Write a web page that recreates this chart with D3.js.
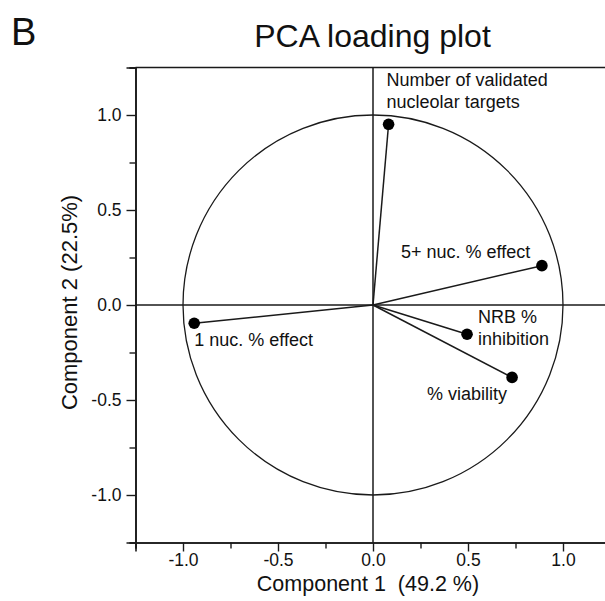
<!DOCTYPE html>
<html>
<head>
<meta charset="utf-8">
<script src="https://cdn.jsdelivr.net/npm/d3@7"></script>
<style>
  body { margin: 0; background: #fff; }
  text { font-family: "Liberation Sans", Arial, sans-serif; fill: #111; }
</style>
</head>
<body>
<script>
// loadings
const variables = ["Number of validated|nucleolar targets", "5+ nuc. % effect", "NRB %|inhibition", "% viability", "1 nuc. % effect"];
const comp1 = [0.082, 0.889, 0.495, 0.732, -0.941];
const comp2 = [0.951, 0.207, -0.154, -0.381, -0.096];

const majorTicks = [-1.0, -0.5, 0.0, 0.5, 1.0];
const minorTicks = [-1.25, -0.75, -0.25, 0.25, 0.75, 1.25];

// label placement, pixels from the dot
const labelOffsets = [[-2, -38], [-141, -8], [11, -11], [-85, 23], [0, 23]];

const w = 605, h = 601;
const padLeft = 135.5, padTop = 67.5, size = 475;

const svg = d3.select("body").append("svg")
    .attr("width", w)
    .attr("height", h);

const xScale = d3.scaleLinear().domain([-1.25, 1.25]).range([padLeft, padLeft + size]);
const yScale = d3.scaleLinear().domain([-1.25, 1.25]).range([padTop + size, padTop]);

const ink = "#1a1a1a";

// frame (top line)
svg.append("line")
    .attr("x1", padLeft).attr("x2", padLeft + size)
    .attr("y1", padTop).attr("y2", padTop)
    .attr("stroke", ink).attr("stroke-width", 1.5);

// cross hair through origin
svg.append("line")
    .attr("x1", xScale(0)).attr("x2", xScale(0))
    .attr("y1", padTop).attr("y2", padTop + size)
    .attr("stroke", ink).attr("stroke-width", 1.5);
svg.append("line")
    .attr("x1", padLeft).attr("x2", padLeft + size)
    .attr("y1", yScale(0)).attr("y2", yScale(0))
    .attr("stroke", ink).attr("stroke-width", 1.5);

// unit circle
svg.append("circle")
    .attr("cx", xScale(0)).attr("cy", yScale(0))
    .attr("r", xScale(1) - xScale(0))
    .attr("fill", "none")
    .attr("stroke", ink).attr("stroke-width", 1.3);

// axes: majors with labels, minors without
const fmt = function(d) { return d.toFixed(1); };

const styleAxis = function(g) {
    g.select(".domain").attr("stroke", ink).attr("stroke-width", 1.6);
    g.selectAll(".tick line").attr("stroke", ink).attr("stroke-width", 1.4);
    g.selectAll("text").attr("font-size", 17.5).attr("fill", "#111")
        .style("font-family", "'Liberation Sans', Arial, sans-serif");
};

svg.append("g")
    .attr("transform", "translate(0," + (padTop + size) + ")")
    .call(d3.axisBottom(xScale).tickValues(minorTicks).tickSize(6).tickFormat(""))
    .call(styleAxis);
svg.append("g")
    .attr("transform", "translate(0," + (padTop + size) + ")")
    .call(d3.axisBottom(xScale).tickValues(majorTicks).tickSize(9).tickPadding(2).tickFormat(fmt))
    .call(styleAxis);

svg.append("g")
    .attr("transform", "translate(" + padLeft + ",0)")
    .call(d3.axisLeft(yScale).tickValues(minorTicks).tickSize(6).tickFormat(""))
    .call(styleAxis);
svg.append("g")
    .attr("transform", "translate(" + padLeft + ",0)")
    .call(d3.axisLeft(yScale).tickValues(majorTicks).tickSize(9).tickPadding(5).tickFormat(fmt))
    .call(styleAxis);

// loading vectors
const pts = variables.map(function(v, i) {
    return { name: v, x: comp1[i], y: comp2[i], off: labelOffsets[i] };
});

svg.selectAll(".vec")
    .data(pts)
    .enter()
    .append("line")
    .attr("class", "vec")
    .attr("x1", xScale(0)).attr("y1", yScale(0))
    .attr("x2", function(d) { return xScale(d.x); })
    .attr("y2", function(d) { return yScale(d.y); })
    .attr("stroke", ink).attr("stroke-width", 1.5);

svg.selectAll(".dot")
    .data(pts)
    .enter()
    .append("circle")
    .attr("class", "dot")
    .attr("cx", function(d) { return xScale(d.x); })
    .attr("cy", function(d) { return yScale(d.y); })
    .attr("r", 5.8)
    .attr("fill", "#000");

const labels = svg.selectAll(".lab")
    .data(pts)
    .enter()
    .append("text")
    .attr("class", "lab")
    .attr("font-size", 18)
    .attr("x", function(d) { return xScale(d.x) + d.off[0]; })
    .attr("y", function(d) { return yScale(d.y) + d.off[1]; });

labels.each(function(d) {
    const lines = d.name.split("|");
    const t = d3.select(this);
    lines.forEach(function(line, j) {
        t.append("tspan")
            .attr("x", xScale(d.x) + d.off[0])
            .attr("dy", j === 0 ? 0 : 21.5)
            .text(line);
    });
});

// titles
svg.append("text")
    .attr("x", 11).attr("y", 45)
    .attr("font-size", 38)
    .text("B");

svg.append("text")
    .attr("x", 372.5).attr("y", 47)
    .attr("text-anchor", "middle")
    .attr("font-size", 32)
    .text("PCA loading plot");

svg.append("text")
    .attr("x", 368).attr("y", 591)
    .attr("text-anchor", "middle")
    .attr("font-size", 21.5)
    .style("white-space", "pre")
    .text("Component 1  (49.2 %)");

svg.append("text")
    .attr("text-anchor", "middle")
    .attr("transform", "translate(77,302.5)rotate(-90)")
    .attr("font-size", 22)
    .text("Component 2 (22.5%)");
</script>
</body>
</html>
